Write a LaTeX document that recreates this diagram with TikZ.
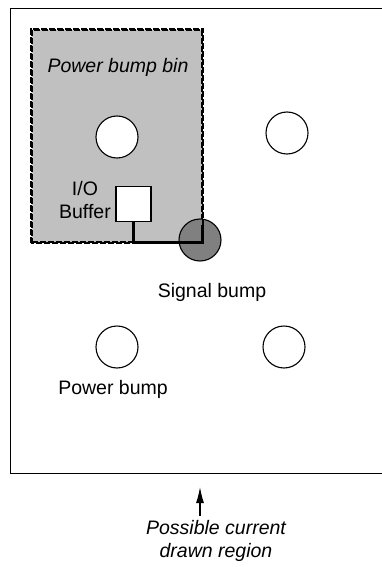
\documentclass[tikz,border=0pt]{standalone}
\usepackage{fontspec}
\setmainfont{Liberation Sans}
\usepackage{tikz}
\usetikzlibrary{arrows.meta, positioning}
\definecolor{binfill}{HTML}{C0C0C0}
\definecolor{sigfill}{HTML}{808080}

\begin{document}
\begin{tikzpicture}[
  x=1pt, y=-1pt,
  >=Stealth,
  every node/.style={font=\fontsize{19.5}{23}\selectfont},
  bin/.style={draw=black, fill=binfill, line width=1.8pt,
              dash pattern=on 6pt off 2pt, minimum width=170pt, minimum height=212pt,
              inner sep=0pt},
  binedge/.style={draw=black, line width=1.8pt, dash pattern=on 6pt off 2pt},
  bump/.style={circle, draw=black, fill=white, line width=1.1pt,
               minimum size=42pt, inner sep=0pt},
  sigbump/.style={bump, fill=sigfill},
  buffer/.style={draw=black, fill=white, line width=1.1pt,
                 minimum size=35pt, inner sep=0pt},
  wire/.style={line width=3pt},
  lbl/.style={align=center, inner sep=0pt},
  note/.style={lbl, font=\fontsize{19.5}{23}\selectfont\itshape}
]
  \useasboundingbox (0,0) rectangle (382,567);
  % frame
  \draw[line width=1pt] (382,9) -- (10,9) -- (10,473) -- (382,473);

  \node[bin] (bin) at (117,136) {};
  \node[note] (binlbl) at (118,67) {Power bump bin};

  \node[bump] (pbA) at (117,137) {};
  \node[bump] (pbB) at (287,133) {};
  \node[bump] (pbC) at (117,347) {};
  \node[bump] (pbD) at (284,347) {};

  \node[buffer] (buf) at (133.5,204) {};
  \node[lbl, anchor=east] (buflbl) at (111,200) {I/O\\Buffer};

  \node[sigbump] (sig) at (200,240) {};
  \draw[binedge] (bin.south west) rectangle (bin.north east);
  \draw[wire] (buf.south) |- (bin.south east) -- ++(0,-18);

  \node[lbl] (siglbl) at (212,292) {Signal bump};
  \node[lbl] (pwrlbl) at (113,389) {Power bump};

  \coordinate (tail) at (200,516);
  \coordinate (head) at (200,487);
  \draw[-{Latex[length=16pt, width=8pt]}, line width=1.2pt] (tail) -- (head);
  \node[note] (region) at (216,541) {Possible current\\drawn region};
\end{tikzpicture}
\end{document}
